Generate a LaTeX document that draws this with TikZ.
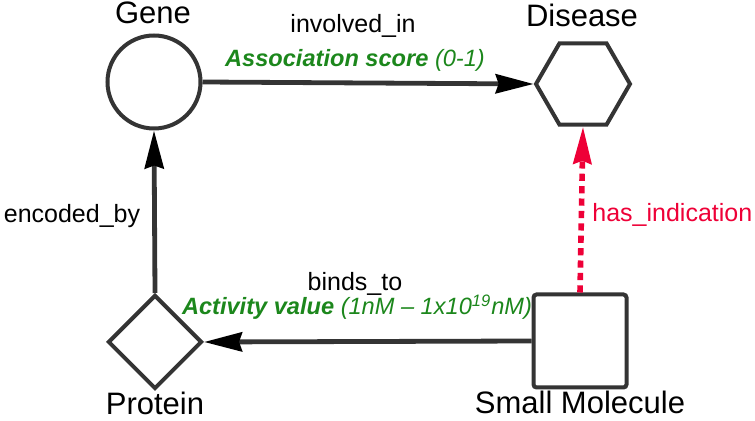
\documentclass[tikz,border=0pt]{standalone}
\usepackage{fontspec}
\setmainfont{Liberation Sans}
\usetikzlibrary{shapes.geometric,arrows.meta}
\definecolor{linegrey}{RGB}{52,52,52}
\definecolor{lblgreen}{RGB}{28,135,28}
\definecolor{indred}{RGB}{238,0,55}
\tikzset{
  entity/.style={draw=linegrey, line width=2pt, fill=white, inner sep=0pt},
  ename/.style={font=\fontsize{15.5}{18}\selectfont, text=black, inner sep=0pt, anchor=base},
  elabel/.style={font=\fontsize{12.5}{15}\selectfont, text=black, inner sep=0pt, anchor=base},
  glabel/.style={font=\fontsize{11.8}{14}\selectfont\itshape, text=lblgreen, inner sep=0pt, anchor=base},
  rel/.style={draw=linegrey, line width=2.4pt, -{Stealth[length=19pt,width=9.5pt,inset=1.5pt,color=black]}},
  relred/.style={draw=indred, line width=2.8pt, dash pattern=on 3.6pt off 2.6pt, -{Stealth[length=18.5pt,width=9pt,inset=1.5pt,color=indred]}}
}
\begin{document}
\begin{tikzpicture}[x=0.5pt,y=-0.5pt]
\useasboundingbox (0,0) rectangle (755,421);
% entities
\node[entity, circle, minimum size=46.5pt] (gene) at (154,82) {};
\node[entity, regular polygon, regular polygon sides=6, minimum size=47pt] (disease) at (583,84) {};
\node[entity, diamond, aspect=1, minimum width=47pt, minimum height=47pt] (protein) at (155,342) {};
\node[entity, rectangle, rounded corners=1.5pt, minimum size=46.5pt] (sm) at (580,341) {};
% names
\node[ename] (geneT) at (153,24) {Gene};
\node[ename] (diseaseT) at (582,27) {Disease};
\node[ename] (proteinT) at (155,415) {Protein};
\node[ename] (smT) at (580,414) {Small Molecule};
% connectors
\draw[rel] (gene.east) -- (disease.west);
\draw[rel] (protein.north) -- (gene.south);
\draw[rel] (sm.west) -- (protein.east);
\draw[relred] (sm.north) -- (disease.south);
% labels
\node[elabel] (invT) at (353,33) {involved\_in};
\node[glabel] (assocT) at (355,67) {\textbf{Association score} (0-1)};
\node[elabel] (bindT) at (355,291) {binds\_to};
\node[glabel] (actT) at (357,315) {\textbf{Activity value} (1nM – 1x10\textsuperscript{19}nM)};
\node[elabel] (encT) at (72,223) {encoded\_by};
\node[elabel, text=indred, anchor=base west] (indT) at (592,222) {has\_indication};
\end{tikzpicture}
\end{document}
